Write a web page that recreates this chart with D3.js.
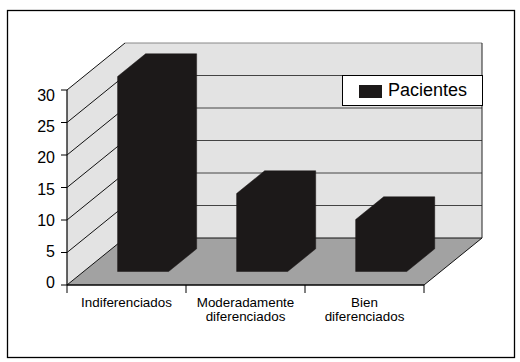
<!DOCTYPE html>
<html><head><meta charset="utf-8">
<script src="https://cdn.jsdelivr.net/npm/d3@7"></script>
<style>body{margin:0;background:#fff}svg{display:block}text{font-family:"Liberation Sans",Arial,sans-serif;fill:#000}</style>
</head><body>
<svg id="c" width="520" height="362"></svg>
<script>
const categories = ["Indiferenciados", "Moderadamente|diferenciados", "Bien|diferenciados"];
const pacientes = [30, 12, 8];
const yTicks = [0, 5, 10, 15, 20, 25, 30];
const seriesName = "Pacientes";

const svg = d3.select("#c");
const DX = 58, DY = -47;           // depth projection
const D0 = 0.287, D1 = 0.77;       // bar depth range
const x0 = 67, x1 = 424;

const y = d3.scaleLinear().domain([0, 30]).range([285, 90]);
const yLab = d3.scaleLinear().domain([0, 30]).range([282.5, 95]);
const xBand = d3.scaleBand().domain(categories).range([x0, x1]).padding(0);
const xBar = d3.scaleBand().domain(categories).range([x0, x1]).paddingInner(0.571).paddingOuter(0.285);

const P = (x, v, d) => [x + d * DX, y(v) + d * DY];
const poly = pts => pts.map(p => p.join(",")).join(" ");

// outer frame
svg.append("rect").attr("x", 7.5).attr("y", 10.5).attr("width", 507).attr("height", 347)
  .attr("fill", "none").attr("stroke", "#000").attr("stroke-width", 1.3);

const ymax = 30;
// back wall
svg.append("polygon").attr("points", poly([P(x0, ymax, 1), P(x1, ymax, 1), P(x1, 0, 1), P(x0, 0, 1)]))
  .attr("fill", "#e3e3e3").attr("stroke", "none");
// left wall
svg.append("polygon").attr("points", poly([P(x0, 0, 0), P(x0, ymax, 0), P(x0, ymax, 1), P(x0, 0, 1)]))
  .attr("fill", "#e3e3e3").attr("stroke", "none");
// floor
svg.append("polygon").attr("points", poly([P(x0, 0, 0), P(x0, 0, 1), P(x1, 0, 1), P(x1, 0, 0)]))
  .attr("fill", "#a2a2a2").attr("stroke", "#111").attr("stroke-width", 1);

// gridlines
yTicks.filter(v => v > 0).forEach(v => {
  svg.append("line").attr("x1", P(x0, v, 1)[0]).attr("y1", P(x0, v, 1)[1])
    .attr("x2", P(x1, v, 1)[0]).attr("y2", P(x1, v, 1)[1])
    .attr("stroke", v === ymax ? "#888" : "#444").attr("stroke-width", 1);
  svg.append("line").attr("x1", P(x0, v, 0)[0]).attr("y1", P(x0, v, 0)[1])
    .attr("x2", P(x0, v, 1)[0]).attr("y2", P(x0, v, 1)[1])
    .attr("stroke", "#111").attr("stroke-width", 1);
});
// back wall right edge & left wall front edge
svg.append("line").attr("x1", P(x1, ymax, 1)[0]).attr("y1", P(x1, ymax, 1)[1])
  .attr("x2", P(x1, 0, 1)[0]).attr("y2", P(x1, 0, 1)[1]).attr("stroke", "#222");
svg.append("line").attr("x1", P(x0, ymax, 0)[0]).attr("y1", P(x0, ymax, 0)[1])
  .attr("x2", P(x0, 0, 0)[0]).attr("y2", P(x0, 0, 0)[1]).attr("stroke", "#555").attr("stroke-width", 0.6);

// bars (uniform dark faces, drawn through the scales)
const barColor = "#1c1919";
categories.forEach((c, i) => {
  const v = pacientes[i];
  const bx = xBar(c), bw = xBar.bandwidth();
  const g = svg.append("g").attr("fill", barColor).attr("stroke", barColor).attr("stroke-width", 0.5);
  g.append("polygon").attr("points", poly([P(bx, 0, D0), P(bx, v, D0), P(bx, v, D1), P(bx + bw, v, D1), P(bx + bw, 0, D1), P(bx + bw, 0, D0)]));
});

// y axis
svg.append("line").attr("x1", x0).attr("x2", x0).attr("y1", y(0)).attr("y2", y(ymax)).attr("stroke", "#000");
yTicks.forEach(v => {
  svg.append("line").attr("x1", x0 - 6).attr("x2", x0).attr("y1", y(v)).attr("y2", y(v)).attr("stroke", "#000");
  svg.append("text").attr("x", 55).attr("y", yLab(v)).attr("dy", "0.36em")
    .attr("text-anchor", "end").attr("font-size", 16).text(v);
});

// x axis
svg.append("line").attr("x1", x0).attr("x2", x1).attr("y1", y(0)).attr("y2", y(0)).attr("stroke", "#000");
const xt = categories.map(c => xBand(c)).concat([x1]);
xt.forEach(t => svg.append("line").attr("x1", t).attr("x2", t).attr("y1", y(0)).attr("y2", y(0) + 8).attr("stroke", "#000"));
categories.forEach(c => {
  const lines = c.split("|");
  const t = svg.append("text").attr("text-anchor", "middle").attr("font-size", 13.4)
    .attr("x", xBand(c) + xBand.bandwidth() / 2).attr("y", 306.5);
  lines.forEach((l, k) => t.append("tspan").attr("x", xBand(c) + xBand.bandwidth() / 2).attr("dy", k ? 14 : 0).text(l));
});

// legend
const lg = svg.append("g");
lg.append("rect").attr("x", 342.5).attr("y", 75.5).attr("width", 140).attr("height", 30)
  .attr("fill", "#fff").attr("stroke", "#000");
lg.append("rect").attr("x", 359).attr("y", 85).attr("width", 23).attr("height", 13).attr("fill", barColor);
lg.append("text").attr("x", 388).attr("y", 96).attr("font-size", 18).text(seriesName);
</script>
</body></html>
